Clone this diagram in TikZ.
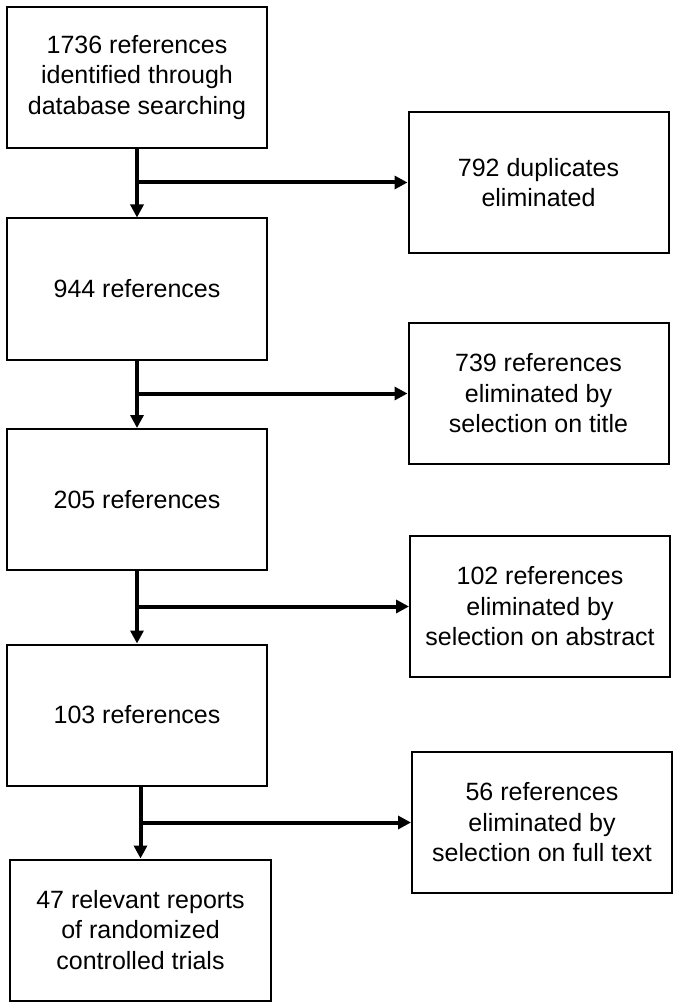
\documentclass[tikz,border=0pt]{standalone}
\usepackage{fontspec}
\setmainfont{Liberation Sans}
\usetikzlibrary{arrows.meta}
\begin{document}
\begin{tikzpicture}[x=1pt,y=-1pt,
  box/.style={draw=black,line width=2pt,inner sep=0pt,align=center,
    font=\fontsize{25}{30.5}\selectfont},
  lbox/.style={box,minimum width=260pt,minimum height=141pt},
  rbox/.style={box,minimum width=260pt,minimum height=141pt},
  flow/.style={line width=4pt,-{Triangle[width=13pt,length=13pt]}}]
\useasboundingbox (0,0) rectangle (679,1008);
\node[lbox] (b1) at (137,77.5) {1736 references\\identified through\\database searching};
\node[lbox] (b2) at (137,289) {944 references};
\node[lbox] (b3) at (137,499.5) {205 references};
\node[lbox] (b4) at (137,715) {103 references};
\node[lbox,minimum width=261pt] (b5) at (140.5,930) {47 relevant reports\\of randomized\\controlled trials};
\node[rbox] (r1) at (538.5,182.5) {792 duplicates\\eliminated};
\node[rbox] (r2) at (538.5,393.5) {739 references\\eliminated by\\selection on title};
\node[rbox] (r3) at (540,606.5) {102 references\\eliminated by\\selection on abstract};
\node[rbox] (r4) at (542,822.5) {56 references\\eliminated by\\selection on full text};
\coordinate (j1) at (b1.south |- r1.west);
\coordinate (j2) at (b2.south |- r2.west);
\coordinate (j3) at (b3.south |- r3.west);
\coordinate (j4) at (b5.north |- r4.west);
\draw[flow] (b1.south) -- (b2.north);
\draw[flow] (b2.south) -- (b3.north);
\draw[flow] (b3.south) -- (b4.north);
\draw[flow] (b4.south -| b5.north) -- (b5.north);
\draw[flow] (j1) -- (r1.west);
\draw[flow] (j2) -- (r2.west);
\draw[flow] (j3) -- (r3.west);
\draw[flow] (j4) -- (r4.west);
\end{tikzpicture}
\end{document}
